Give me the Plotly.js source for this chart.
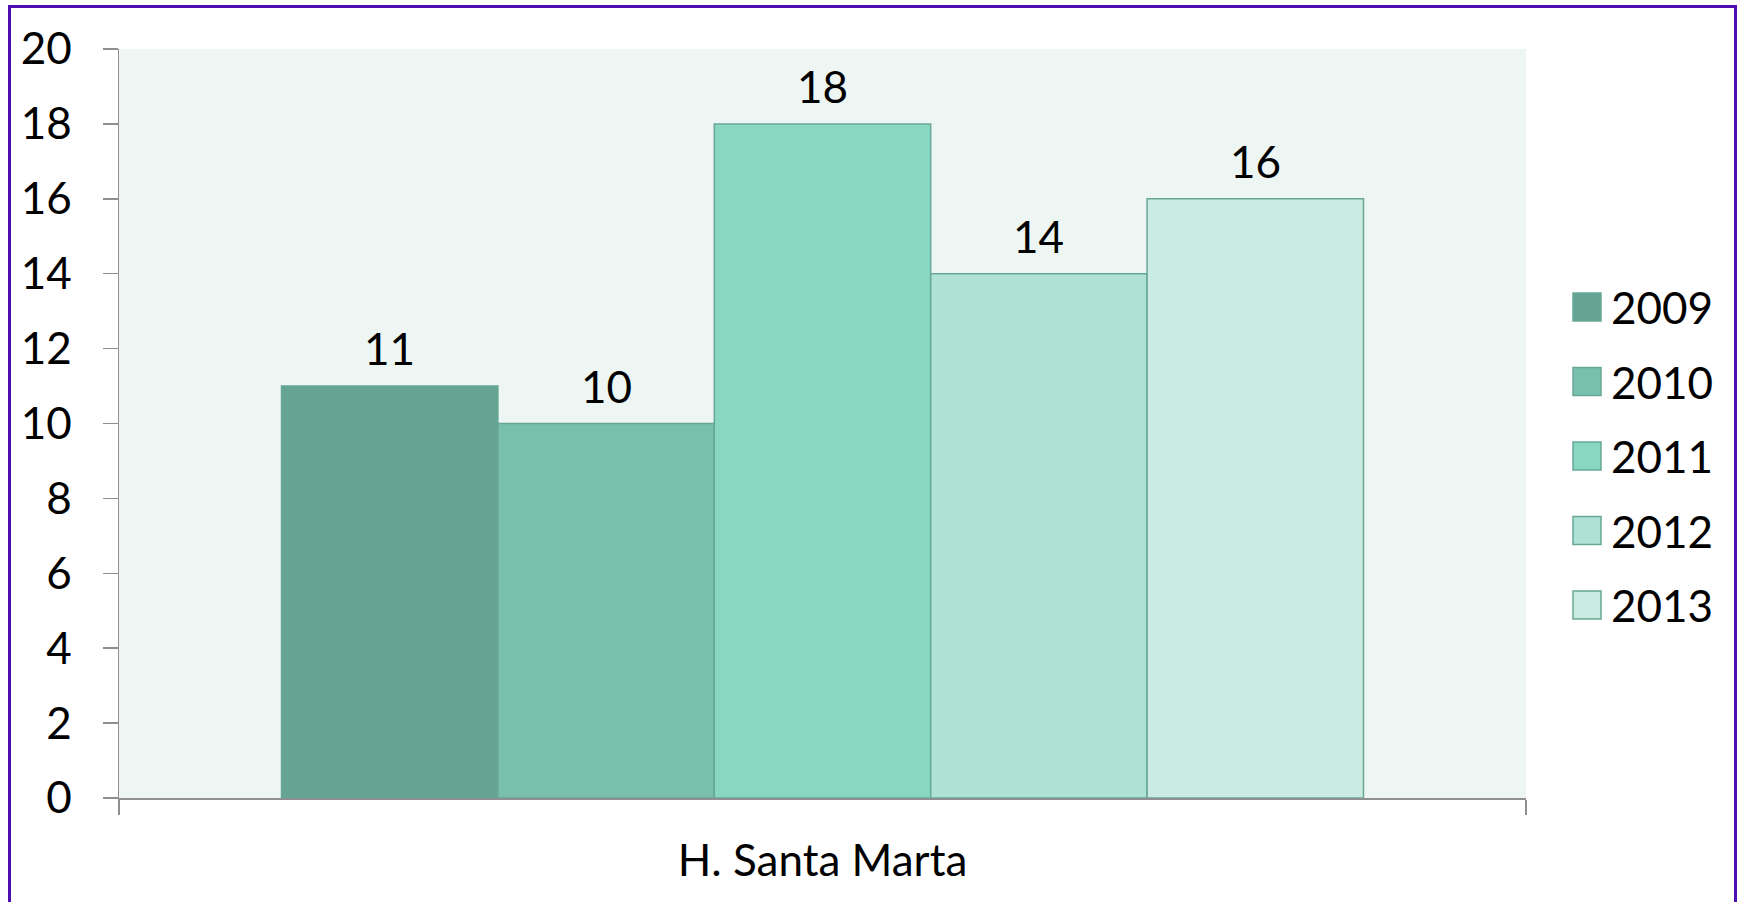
<!DOCTYPE html>
<html>
<head>
<meta charset="utf-8">
<script src="https://cdn.plot.ly/plotly-3.0.1.min.js"></script>
<style>
  html, body { margin: 0; padding: 0; background: #ffffff; }
  #chart { width: 1741px; height: 902px; }
  #frame { position: absolute; left: 8px; top: 5px; width: 1729px; height: 910px;
           border: 3px solid #4f0fae; box-sizing: border-box; pointer-events: none; }
</style>
</head>
<body>
<div id="chart"></div>
<div id="frame"></div>
<script>
// ---- data ----
const categories = ["H. Santa Marta"];
const seriesNames = ["2009", "2010", "2011", "2012", "2013"];
const values2009 = [11];
const values2010 = [10];
const values2011 = [18];
const values2012 = [14];
const values2013 = [16];
const yTickVals = [0, 2, 4, 6, 8, 10, 12, 14, 16, 18, 20];

const seriesValues = [values2009, values2010, values2011, values2012, values2013];
const colors = ["#65a493", "#78c0ab", "#88d8c1", "#aee2d4", "#caebe1"];
const outline = "#68a796";

// ---- layout geometry ----
const W = 1741, H = 902;
const M = { l: 119, r: 215, t: 49, b: 104 };
const plotW = W - M.l - M.r, plotH = H - M.t - M.b;
const px2x = px => (px - M.l) / plotW;
const px2y = py => (H - M.b - py) / plotH;

const FONT = "Lato, 'Open Sans', sans-serif";
const FS = 44;
const bargap = 0.231;

const traces = seriesNames.map((name, i) => ({
  type: "bar",
  name: name,
  x: categories,
  y: seriesValues[i],
  marker: { color: colors[i], line: { color: outline, width: 1.5 } },
  showlegend: false,
  hoverinfo: "x+y+name"
}));

// data labels above bars
const annotations = [];
const n = seriesNames.length;
const groupW = 1 - bargap;
seriesValues.forEach((vals, i) => {
  vals.forEach((v, ci) => {
    annotations.push({
      xref: "x", yref: "y",
      x: ci - groupW / 2 + (i + 0.5) * groupW / n,
      y: v,
      text: String(v),
      showarrow: false,
      yanchor: "bottom",
      yshift: 10,
      font: { family: FONT, size: FS, color: "#000000" }
    });
  });
});

// manual legend (keys + labels)
const shapes = [];
const legendTop = 307, legendStep = 74.5, keySize = 28, keyLeft = 1573, textLeft = 1609;
seriesNames.forEach((name, i) => {
  const cy = legendTop + i * legendStep;
  shapes.push({
    type: "rect", xref: "paper", yref: "paper",
    x0: px2x(keyLeft), x1: px2x(keyLeft + keySize),
    y0: px2y(cy + keySize / 2), y1: px2y(cy - keySize / 2),
    fillcolor: colors[i], line: { color: outline, width: 1.5 }
  });
  annotations.push({
    xref: "paper", yref: "paper",
    x: px2x(textLeft), y: px2y(cy),
    xanchor: "left", yanchor: "middle",
    text: name, showarrow: false,
    font: { family: FONT, size: FS, color: "#000000" }
  });
});

const layout = {
  width: W, height: H,
  margin: M,
  paper_bgcolor: "rgba(0,0,0,0)",
  plot_bgcolor: "#edf6f2",
  barmode: "group",
  bargap: bargap,
  bargroupgap: 0,
  showlegend: false,
  font: { family: FONT, size: FS, color: "#000000" },
  xaxis: {
    type: "category",
    showline: true, linecolor: "#8f8f8f", linewidth: 1.5,
    ticks: "outside", tickson: "boundaries", ticklen: 15, tickwidth: 1.5, tickcolor: "#8f8f8f",
    showgrid: false, zeroline: false,
    ticklabelstandoff: 24,
    tickfont: { family: FONT, size: FS, color: "#000000" }
  },
  yaxis: {
    range: [0, 20],
    tickmode: "array", tickvals: yTickVals,
    showline: true, linecolor: "#8f8f8f", linewidth: 1.5,
    ticks: "outside", ticklen: 15, tickwidth: 1.5, tickcolor: "#8f8f8f",
    showgrid: false, zeroline: false,
    ticklabelstandoff: 22,
    tickfont: { family: FONT, size: FS, color: "#000000" }
  },
  annotations: annotations,
  shapes: shapes
};

Plotly.newPlot("chart", traces, layout, { displayModeBar: false, staticPlot: true });
</script>
</body>
</html>
